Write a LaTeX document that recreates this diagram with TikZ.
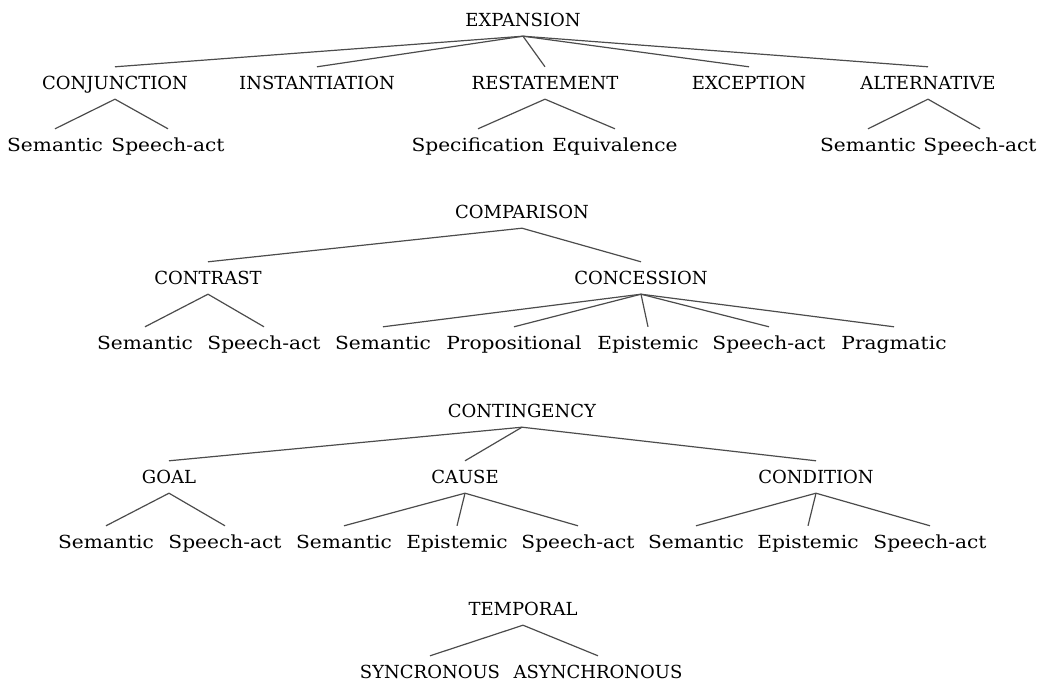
\documentclass[tikz,border=0pt]{standalone}
\usepackage{fontspec}
\setmainfont{DejaVu Serif}
\newfontfamily\leaffont[FakeStretch=1.12]{DejaVu Serif}
\begin{document}
\begin{tikzpicture}[x=1pt,y=-1pt,
  lbl/.style={inner sep=0pt,minimum height=32pt,text height=13pt,text depth=0pt,font=\fontsize{18}{20}\selectfont,text=black},
  leaf/.style={lbl,font=\leaffont\fontsize{18}{20}\selectfont},
  edge/.style={draw=black!70,line width=1.2pt}]
\useasboundingbox (0,0) rectangle (1037,682);
% EXPANSION
\node[lbl] (exp) at (523,20) {EXPANSION};
\node[lbl] (conj) at (115,83) {CONJUNCTION};
\node[lbl] (inst) at (317,83) {INSTANTIATION};
\node[lbl] (rest) at (545,83) {RESTATEMENT};
\node[lbl] (exc) at (749,83) {EXCEPTION};
\node[lbl] (alt) at (928,83) {ALTERNATIVE};
\node[leaf] (conjA) at (55,145) {Semantic};
\node[leaf] (conjB) at (168,145) {Speech-act};
\node[leaf] (restA) at (478,145) {Specification};
\node[leaf] (restB) at (615,145) {Equivalence};
\node[leaf] (altA) at (868,145) {Semantic};
\node[leaf] (altB) at (980,145) {Speech-act};
\foreach \c in {conj,inst,rest,exc,alt} \draw[edge] (exp.south) -- (\c.north);
\draw[edge] (conjA.north) -- (conj.south) -- (conjB.north);
\draw[edge] (restA.north) -- (rest.south) -- (restB.north);
\draw[edge] (altA.north) -- (alt.south) -- (altB.north);
% COMPARISON
\node[lbl] (comp) at (522,212) {COMPARISON};
\node[lbl] (contr) at (208,278) {CONTRAST};
\node[lbl] (conc) at (641,278) {CONCESSION};
\node[leaf] (contrA) at (145,343) {Semantic};
\node[leaf] (contrB) at (264,343) {Speech-act};
\node[leaf] (concA) at (383,343) {Semantic};
\node[leaf] (concB) at (514,343) {Propositional};
\node[leaf] (concC) at (648,343) {Epistemic};
\node[leaf] (concD) at (769,343) {Speech-act};
\node[leaf] (concE) at (894,343) {Pragmatic};
\draw[edge] (contr.north) -- (comp.south) -- (conc.north);
\draw[edge] (contrA.north) -- (contr.south) -- (contrB.north);
\foreach \c in {concA,concB,concC,concD,concE} \draw[edge] (conc.south) -- (\c.north);
% CONTINGENCY
\node[lbl] (cont) at (522,411) {CONTINGENCY};
\node[lbl] (goal) at (169,477) {GOAL};
\node[lbl] (cause) at (465,477) {CAUSE};
\node[lbl] (cond) at (816,477) {CONDITION};
\node[leaf] (goalA) at (106,542) {Semantic};
\node[leaf] (goalB) at (225,542) {Speech-act};
\node[leaf] (causeA) at (344,542) {Semantic};
\node[leaf] (causeB) at (457,542) {Epistemic};
\node[leaf] (causeC) at (578,542) {Speech-act};
\node[leaf] (condA) at (696,542) {Semantic};
\node[leaf] (condB) at (808,542) {Epistemic};
\node[leaf] (condC) at (930,542) {Speech-act};
\foreach \c in {goal,cause,cond} \draw[edge] (cont.south) -- (\c.north);
\draw[edge] (goalA.north) -- (goal.south) -- (goalB.north);
\foreach \c in {causeA,causeB,causeC} \draw[edge] (cause.south) -- (\c.north);
\foreach \c in {condA,condB,condC} \draw[edge] (cond.south) -- (\c.north);
% TEMPORAL
\node[lbl] (temp) at (523,609) {TEMPORAL};
\node[lbl] (sync) at (430,672) {SYNCRONOUS};
\node[lbl] (async) at (598,672) {ASYNCHRONOUS};
\draw[edge] (sync.north) -- (temp.south) -- (async.north);
\end{tikzpicture}
\end{document}
